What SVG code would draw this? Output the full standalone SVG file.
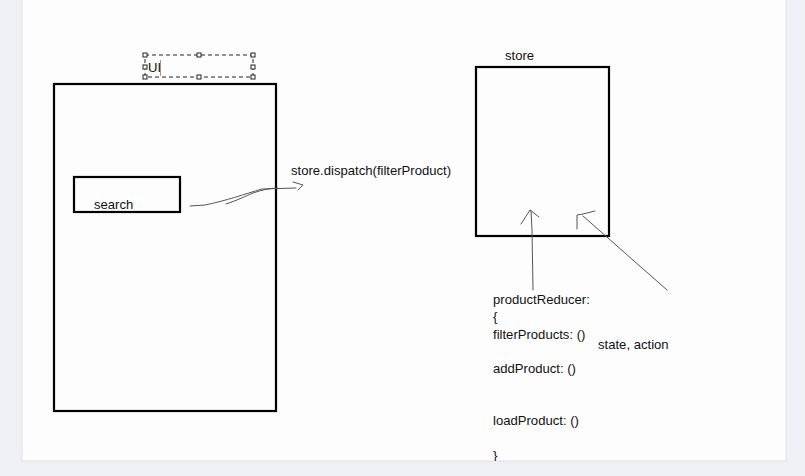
<svg xmlns="http://www.w3.org/2000/svg" width="805" height="476" viewBox="0 0 805 476">
  <defs>
    <clipPath id="page-clip">
      <rect x="22" y="0" width="764" height="461"/>
    </clipPath>
    <style>
      .box { fill: none; stroke: #000; stroke-width: 2.2; }
      .sketch { fill: none; stroke: #555; stroke-width: 1; stroke-linecap: round; stroke-linejoin: round; }
      .label { font-family: "Liberation Sans", Arial, sans-serif; font-size: 13.1px; fill: #111; }
      .sel { fill: none; stroke: #222; stroke-width: 1; stroke-dasharray: 4 3; }
      .handle { fill: #fff; stroke: #222; stroke-width: 1; }
    </style>
  </defs>

  <!-- backdrop and page -->
  <rect x="0" y="0" width="805" height="476" fill="#eff0f6"/>
  <rect x="22" y="-1" width="764" height="462" fill="#fdfdfd" stroke="#e2e2e8" stroke-width="1"/>

  <g clip-path="url(#page-clip)">
    <!-- UI screen -->
    <g id="ui-screen">
      <rect class="box" x="54" y="84" width="222" height="327"/>
    </g>

    <!-- UI label with selection frame -->
    <g id="ui-label">
      <rect class="sel" x="145" y="55" width="108" height="22"/>
      <rect class="handle" x="143" y="53" width="4" height="4"/>
      <rect class="handle" x="197" y="53" width="4" height="4"/>
      <rect class="handle" x="251" y="53" width="4" height="4"/>
      <rect class="handle" x="143" y="65" width="4" height="4"/>
      <rect class="handle" x="251" y="65" width="4" height="4"/>
      <rect class="handle" x="143" y="75" width="4" height="4"/>
      <rect class="handle" x="197" y="75" width="4" height="4"/>
      <rect class="handle" x="251" y="75" width="4" height="4"/>
      <text class="label" x="148" y="72">UI</text>
      <line x1="160.5" y1="60" x2="160.5" y2="76" stroke="#999" stroke-width="1"/>
    </g>

    <!-- search box -->
    <g id="search">
      <rect class="box" x="74" y="177" width="106" height="35"/>
      <text class="label" x="94" y="209">search</text>
    </g>

    <!-- store -->
    <g id="store">
      <rect class="box" x="476" y="67" width="133" height="169"/>
      <text class="label" x="505" y="60">store</text>
    </g>

    <!-- reducer notes -->
    <g id="reducer">
      <text class="label" x="493" y="304">productReducer:</text>
      <text class="label" x="493" y="321">{</text>
      <text class="label" x="493" y="339">filterProducts: ()</text>
      <text class="label" x="493" y="373">addProduct: ()</text>
      <text class="label" x="493" y="425">loadProduct: ()</text>
      <text class="label" x="493" y="460">}</text>
    </g>

    <g id="state-action">
      <text class="label" x="598" y="349">state, action</text>
    </g>

    <g id="dispatch-label">
      <text class="label" x="291" y="175">store.dispatch(filterProduct)</text>
    </g>

    <!-- connectors -->
    <g id="connectors">
      <!-- search to dispatch -->
      <path class="sketch" d="M190,206 L205,205 C225,201 245,194 262,189 L296,188"/>
      <path class="sketch" d="M226,204 C238,200 246,196 253,193 C262,190 270,188 278,188"/>
      <path class="sketch" d="M293,182 L303,185 L298,190"/>
      <!-- reducer up into store -->
      <path class="sketch" d="M533,290 L532,230 L531,211"/>
      <path class="sketch" d="M521,224 L530,210 L539,217"/>
      <!-- state, action into store -->
      <path class="sketch" d="M667,290 L583,216"/>
      <path class="sketch" d="M577,229 L577,215 L583,214 L595,211"/>
    </g>
  </g>
</svg>
